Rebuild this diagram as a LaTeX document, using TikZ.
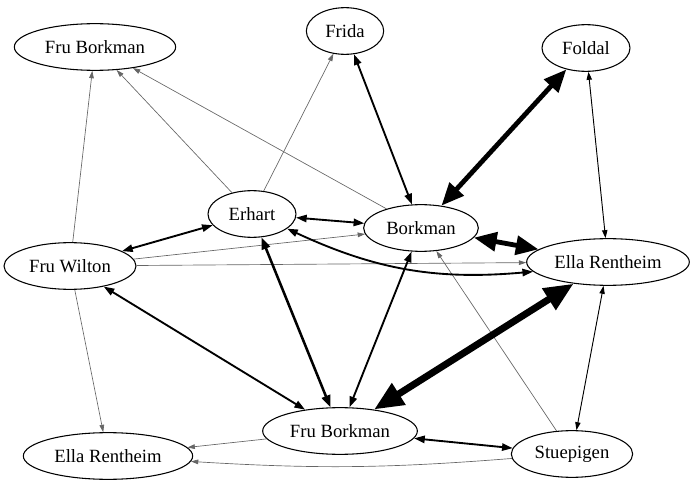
\documentclass[tikz,border=0pt]{standalone}
\usepackage{fontspec}
\setmainfont{Liberation Serif}
\usetikzlibrary{shapes.geometric,arrows.meta}
\begin{document}
\begin{tikzpicture}
        [x=0.75pt, y=-0.75pt,
        every node/.style={ellipse, draw=black, line width=0.8pt, inner sep=0pt, minimum height=35pt, font=\fontsize{14}{16}\selectfont},
        faint/.style={draw=black!60, line width=0.5pt, -{Triangle[length=5.5pt,width=3.5pt]}},
        light/.style={line width=0.7pt, {Triangle[length=6pt,width=4pt]}-{Triangle[length=6pt,width=4pt]}},
        mid/.style={line width=1.4pt, {Triangle[length=8pt,width=5.5pt]}-{Triangle[length=8pt,width=5.5pt]}},
        strong/.style={line width=1.9pt, {Triangle[length=9pt,width=6.5pt]}-{Triangle[length=9pt,width=6.5pt]}},
        heavy/.style={line width=3.6pt, {Triangle[length=17pt,width=14pt]}-{Triangle[length=17pt,width=14pt]}},
        heaviest/.style={line width=5.2pt, {Triangle[length=22pt,width=18pt]}-{Triangle[length=22pt,width=18pt]}},
        ]
        \useasboundingbox (0,0) rectangle (694,485);
        \node[minimum width=121pt] (fbTop) at (95,47) {Fru Borkman};
        \node[minimum width=58pt] (frida) at (345,31) {Frida};
        \node[minimum width=66pt] (foldal) at (586,48) {Foldal};
        \node[minimum width=66pt] (erhart) at (252,214) {Erhart};
        \node[minimum width=86pt] (borkman) at (421,228) {Borkman};
        \node[minimum width=99pt] (wilton) at (70,266) {Fru Wilton};
        \node[minimum width=122pt] (ellaR) at (608,262) {Ella Rentheim};
        \node[minimum width=116pt] (fbBot) at (340,431) {Fru Borkman};
        \node[minimum width=127pt] (ellaL) at (108,456) {Ella Rentheim};
        \node[minimum width=91pt] (stue) at (572,454) {Stuepigen};
        \draw[faint] (wilton) -- (fbTop);
        \draw[faint] (erhart) -- (fbTop);
        \draw[faint] (borkman) -- (fbTop);
        \draw[faint] (erhart) -- (frida);
        \draw[faint] (wilton) -- (borkman);
        \draw[faint] (wilton) -- (ellaR);
        \draw[faint] (stue) -- (borkman);
        \draw[faint] (wilton) -- (ellaL);
        \draw[faint] (fbBot) -- (ellaL);
        \draw[faint] (stue) to[bend left=4] (ellaL);
        \draw[light] (foldal) -- (ellaR);
        \draw[light] (ellaR) -- (stue);
        \draw[mid] (frida) -- (borkman);
        \draw[mid] (erhart) -- (borkman);
        \draw[mid] (wilton) -- (erhart);
        \draw[mid] (wilton) -- (fbBot);
        \draw[mid] (borkman) -- (fbBot);
        \draw[mid] (fbBot) -- (stue);
        \draw[mid] (erhart) to[bend right=15] (ellaR);
        \draw[strong] (erhart) -- (fbBot);
        \draw[heavy] (foldal) -- (borkman);
        \draw[heavy] (borkman) -- (ellaR);
        \draw[heaviest] (ellaR) -- (fbBot);
\end{tikzpicture}
\end{document}
